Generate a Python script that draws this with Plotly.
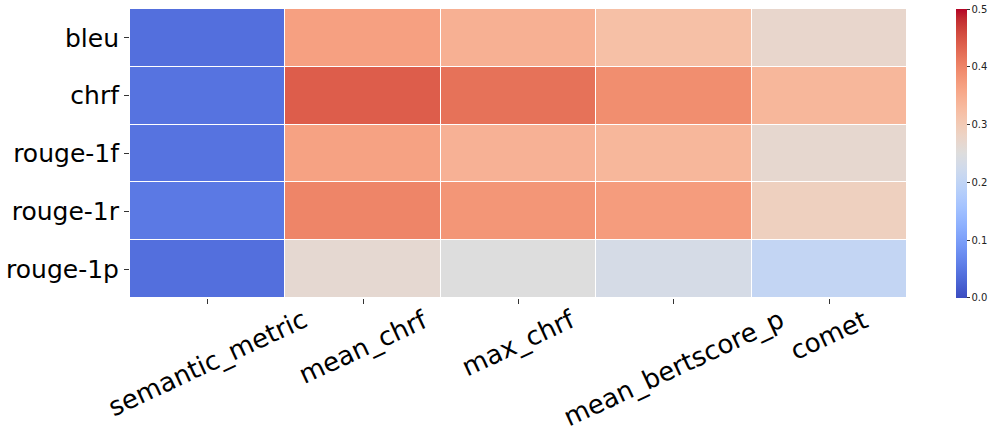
import plotly.graph_objects as go

# rows / columns of the correlation heatmap
ROWS = ["bleu", "chrf", "rouge-1f", "rouge-1r", "rouge-1p"]
COLS = ["semantic_metric", "mean_chrf", "max_chrf", "mean_bertscore_p", "comet"]

BLEU = [0.040, 0.367, 0.345, 0.320, 0.272]
CHRF = [0.045, 0.440, 0.420, 0.390, 0.335]
ROUGE_1F = [0.045, 0.365, 0.343, 0.335, 0.268]
ROUGE_1R = [0.052, 0.400, 0.380, 0.372, 0.288]
ROUGE_1P = [0.040, 0.266, 0.250, 0.235, 0.205]

CBAR_TICKS = [0.0, 0.1, 0.2, 0.3, 0.4, 0.5]

# matplotlib "coolwarm"
COOLWARM = [
    (59, 76, 192), (68, 90, 204), (77, 104, 215), (87, 117, 225), (98, 130, 234),
    (108, 142, 241), (119, 154, 247), (130, 165, 251), (141, 176, 254), (152, 185, 255),
    (163, 194, 255), (174, 201, 253), (184, 208, 249), (194, 213, 244), (204, 217, 238),
    (213, 219, 230), (221, 221, 221), (229, 216, 209), (236, 211, 197), (241, 204, 184),
    (245, 196, 172), (247, 187, 160), (247, 177, 148), (247, 166, 135), (244, 154, 123),
    (241, 141, 111), (236, 127, 99), (229, 112, 88), (222, 96, 77), (213, 80, 66),
    (203, 62, 56), (192, 40, 47), (180, 4, 38),
]
colorscale = [[i / (len(COOLWARM) - 1), "rgb(%d,%d,%d)" % c] for i, c in enumerate(COOLWARM)]

z = [BLEU, CHRF, ROUGE_1F, ROUGE_1R, ROUGE_1P]

fig = go.Figure()
fig.add_trace(go.Heatmap(
    z=z, x=COLS, y=ROWS,
    zmin=0, zmax=0.5,
    colorscale=colorscale,
    xgap=1, ygap=1,
    hoverinfo="skip",
    colorbar=dict(
        x=1.0631, xanchor="left", xpad=0,
        y=0.5, yanchor="middle", len=1, lenmode="fraction", ypad=0,
        thickness=11, outlinewidth=0,
        # nudge the end ticks inside the bar range so plotly keeps their labels
        tickvals=[min(max(t, 1e-4), 0.4999) for t in CBAR_TICKS],
        ticktext=["%.1f" % t for t in CBAR_TICKS],
        ticks="outside", ticklen=3, tickcolor="#333",
        tickfont=dict(family="DejaVu Sans", size=10, color="#222"),
    ),
))

# rotated x labels centred under their ticks (matplotlib style)
for c in COLS:
    fig.add_annotation(
        x=c, y=-0.012, xref="x", yref="paper",
        text=c, showarrow=False, textangle=-25,
        xanchor="center", yanchor="top",
        font=dict(family="DejaVu Sans", size=26, color="black"),
    )

fig.update_layout(
    width=997, height=437,
    margin=dict(l=130, r=90, t=9, b=139),
    paper_bgcolor="white",
    plot_bgcolor="white",
    xaxis=dict(range=[-0.5, 4.5], showticklabels=False, ticks="outside", ticklen=5,
               tickcolor="#333", showgrid=False, zeroline=False, showline=False,
               automargin=False),
    yaxis=dict(range=[4.5, -0.5], ticks="outside", ticklen=5, tickcolor="#333",
               tickfont=dict(family="DejaVu Sans", size=25, color="black"),
               showgrid=False, zeroline=False, showline=False, automargin=False),
)

# drop the default 8px body margin so the figure sits at the window's corner
fig.write_html("out.html", config={"displayModeBar": False},
               post_script="document.body.style.margin='0';")
